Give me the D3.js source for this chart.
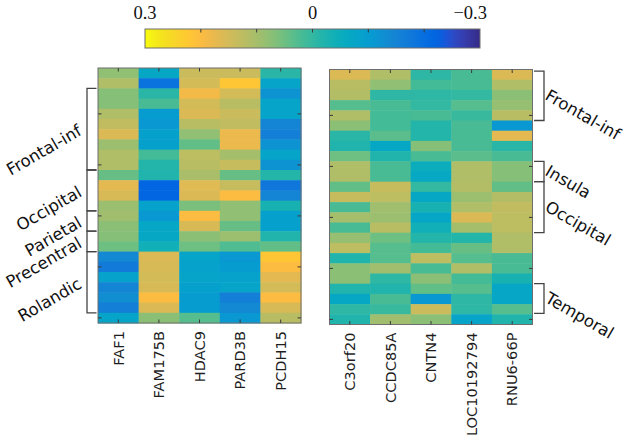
<!DOCTYPE html>
<html><head><meta charset="utf-8">
<script src="https://cdn.jsdelivr.net/npm/d3@7"></script>
<style>body{margin:0;background:#fff}svg{display:block}</style>
</head><body><svg id="c" width="630" height="435"></svg>
<script>
// ---------------- data ----------------
const leftGenes = ["FAF1","FAM175B","HDAC9","PARD3B","PCDH15"];
const rightGenes = ["C3orf20","CCDC85A","CNTN4","LOC10192794","RNU6-66P"];

const leftValues = [
  [0.08,-0.07,0.14,0.14,-0.01],
  [0.11,-0.19,0.15,0.22,-0.08],
  [0.07,-0.01,0.19,0.15,-0.12],
  [0.07,0.02,0.15,0.12,-0.08],
  [0.11,-0.10,0.16,0.14,-0.08],
  [0.13,-0.11,0.12,0.13,-0.15],
  [0.16,-0.09,0.08,0.18,-0.16],
  [0.09,-0.09,0.04,0.18,-0.12],
  [0.11,0.015,0.125,0.10,-0.08],
  [0.11,-0.015,0.12,0.135,-0.12],
  [0.045,-0.02,0.105,0.045,-0.015],
  [0.17,-0.22,0.165,0.135,-0.18],
  [0.155,-0.22,0.16,0.20,-0.15],
  [0.09,-0.085,0.06,0.08,-0.03],
  [0.095,-0.11,0.20,0.08,-0.09],
  [0.075,-0.075,0.155,0.045,-0.09],
  [0.07,-0.07,0.075,0.09,-0.02],
  [0.05,-0.04,0.05,0.025,0.04],
  [-0.14,0.16,-0.08,-0.11,0.22],
  [-0.17,0.155,-0.085,-0.10,0.20],
  [-0.085,0.15,-0.08,-0.085,0.17],
  [-0.15,0.155,-0.09,-0.08,0.15],
  [-0.13,0.20,-0.10,-0.16,0.20],
  [-0.16,0.16,-0.10,-0.14,0.155],
  [-0.08,0.075,0.03,-0.11,0.12]
];

const rightValues = [
  [0.16,0.11,-0.005,0.02,0.16],
  [0.12,0.08,0.015,0.02,0.11],
  [0.115,-0.005,-0.005,0.0,0.075],
  [0.03,0.02,0.0,0.03,0.085],
  [0.11,0.015,0.02,0.005,0.12],
  [0.075,0.015,-0.015,0.02,-0.11],
  [-0.01,0.035,-0.015,0.02,0.17],
  [-0.02,-0.07,0.07,0.02,-0.01],
  [0.05,-0.02,0.02,0.035,0.02],
  [0.11,0.02,-0.05,0.11,0.07],
  [0.11,0.02,-0.065,0.11,0.07],
  [0.04,0.135,0.0,0.115,0.04],
  [0.135,0.125,-0.07,0.09,0.115],
  [0.02,0.095,-0.03,0.11,0.13],
  [0.10,0.09,-0.075,0.16,0.125],
  [0.02,0.12,-0.04,0.10,0.125],
  [0.085,0.05,-0.015,-0.015,0.11],
  [0.125,0.03,0.015,0.045,0.11],
  [-0.02,0.03,0.125,0.03,0.02],
  [0.075,0.095,0.02,0.11,0.02],
  [0.075,-0.005,0.075,0.015,-0.03],
  [-0.02,-0.02,0.04,0.03,-0.075],
  [-0.07,0.02,-0.11,-0.005,-0.075],
  [-0.005,0.005,0.14,-0.005,0.03],
  [-0.02,0.095,0.075,-0.08,-0.02]
];

// region brackets, in row units (row boundaries, 0 = top of first row)
const leftRegions = [
  {name:"Frontal-inf", from:2, to:10},
  {name:"Occipital", from:10, to:14},
  {name:"Parietal", from:14, to:16},
  {name:"Precentral", from:16, to:18},
  {name:"Rolandic", from:18, to:24}
];
const rightRegions = [
  {name:"Frontal-inf", from:0.15, to:5},
  {name:"Insula", from:9, to:11},
  {name:"Occipital", from:11, to:16},
  {name:"Temporal", from:21, to:23.9}
];

const rowTicks = [5,10,15,20,25];             // 1-based rows that carry tick marks
const colorbarTicks = [0.2,0.1,0,-0.1,-0.2];
const colorbarLabels = [0.3,0,-0.3];
const colorDomain = [-0.3,0.3];

// parula colormap (64 entries)
const parula = [
[0.2081,0.1663,0.5292],[0.2116,0.1898,0.5777],[0.2123,0.2138,0.6270],[0.2081,0.2386,0.6771],
[0.1959,0.2645,0.7279],[0.1707,0.2919,0.7792],[0.1253,0.3242,0.8303],[0.0591,0.3598,0.8683],
[0.0117,0.3875,0.8820],[0.0060,0.4086,0.8828],[0.0165,0.4266,0.8786],[0.0329,0.4430,0.8720],
[0.0498,0.4586,0.8641],[0.0629,0.4737,0.8554],[0.0723,0.4887,0.8467],[0.0779,0.5040,0.8384],
[0.0793,0.5200,0.8312],[0.0749,0.5375,0.8263],[0.0641,0.5570,0.8240],[0.0488,0.5772,0.8228],
[0.0343,0.5966,0.8199],[0.0265,0.6137,0.8135],[0.0239,0.6287,0.8038],[0.0231,0.6418,0.7913],
[0.0228,0.6535,0.7768],[0.0267,0.6642,0.7607],[0.0384,0.6743,0.7436],[0.0590,0.6838,0.7254],
[0.0843,0.6928,0.7062],[0.1133,0.7015,0.6859],[0.1453,0.7098,0.6646],[0.1801,0.7177,0.6424],
[0.2178,0.7250,0.6193],[0.2586,0.7317,0.5954],[0.3022,0.7376,0.5712],[0.3482,0.7424,0.5473],
[0.3953,0.7459,0.5244],[0.4420,0.7481,0.5033],[0.4871,0.7491,0.4840],[0.5300,0.7491,0.4661],
[0.5709,0.7485,0.4494],[0.6099,0.7473,0.4337],[0.6473,0.7456,0.4188],[0.6834,0.7435,0.4044],
[0.7184,0.7411,0.3905],[0.7525,0.7384,0.3768],[0.7858,0.7356,0.3633],[0.8185,0.7327,0.3498],
[0.8507,0.7299,0.3360],[0.8824,0.7274,0.3217],[0.9139,0.7258,0.3063],[0.9450,0.7261,0.2886],
[0.9739,0.7314,0.2666],[0.9938,0.7455,0.2403],[0.9990,0.7653,0.2164],[0.9955,0.7861,0.1967],
[0.9880,0.8066,0.1794],[0.9789,0.8271,0.1633],[0.9697,0.8481,0.1475],[0.9626,0.8705,0.1309],
[0.9589,0.8949,0.1132],[0.9598,0.9218,0.0948],[0.9661,0.9514,0.0755],[0.9763,0.9831,0.0538]
];

// ---------------- drawing ----------------
const svg = d3.select("#c");
svg.append("rect").attr("width",630).attr("height",435).attr("fill","#fff");

const interp = d3.piecewise(d3.interpolateRgb, parula.map(c=>d3.rgb(c[0]*255,c[1]*255,c[2]*255)));
const color = d3.scaleSequential(interp).domain(colorDomain);

const AX = "#3a3a3a", BOX = "#6e6e6e", TXT = "#1e1e1e";
const sansFont = "'DejaVu Sans', Verdana, sans-serif";

function heatmap(genes, values, x0, x1, y0, y1, regions, side){
  const g = svg.append("g");
  const x = d3.scaleBand().domain(d3.range(genes.length)).range([x0,x1]);
  const y = d3.scaleBand().domain(d3.range(values.length)).range([y0,y1]);
  const yc = d3.scaleLinear().domain([0,values.length]).range([y0,y1]);

  values.forEach((row,i)=>{
    g.selectAll(null).data(row).enter().append("rect")
      .attr("x",(d,j)=>x(j)).attr("y",y(i))
      .attr("width",x.bandwidth()+0.5).attr("height",y.bandwidth()+0.5)
      .attr("fill",d=>color(d));
  });
  g.append("rect").attr("x",x0).attr("y",y0).attr("width",x1-x0).attr("height",y1-y0)
    .attr("fill","none").attr("stroke",BOX).attr("stroke-width",1);
  const tl = 3.5;
  genes.forEach((gname,j)=>{
    const cx = x(j)+x.bandwidth()/2;
    g.append("line").attr("x1",cx).attr("x2",cx).attr("y1",y0).attr("y2",y0+tl).attr("stroke",AX).attr("stroke-width",1);
    g.append("line").attr("x1",cx).attr("x2",cx).attr("y1",y1).attr("y2",y1-tl).attr("stroke",AX).attr("stroke-width",1);
    g.append("text").attr("transform",`translate(${cx},${y1+8}) rotate(-90)`)
      .attr("text-anchor","end").attr("dy","0.36em")
      .attr("font-family",sansFont).attr("font-size",14.6).attr("fill",TXT).text(gname);
  });
  rowTicks.forEach(r=>{
    const cy = y(r-1)+y.bandwidth()/2;
    g.append("line").attr("x1",x0).attr("x2",x0+tl).attr("y1",cy).attr("y2",cy).attr("stroke",AX).attr("stroke-width",1);
    g.append("line").attr("x1",x1).attr("x2",x1-tl).attr("y1",cy).attr("y2",cy).attr("stroke",AX).attr("stroke-width",1);
  });
  const bx = side==="left" ? x0-11 : x1+11.5;
  const hx = side==="left" ? x0-1.5 : x1+1.5;
  regions.forEach(r=>{
    const ya = yc(r.from), yb = yc(r.to);
    g.append("path").attr("d",`M${hx},${ya}H${bx}V${yb}H${hx}`)
      .attr("fill","none").attr("stroke","#444").attr("stroke-width",1.3);
    const my = (ya+yb)/2;
    if(side==="left"){
      g.append("text").attr("transform",`translate(${bx-7},${my}) rotate(-30)`)
        .attr("text-anchor","end").attr("dy","0.35em")
        .attr("font-family",sansFont).attr("font-size",16.5).attr("fill","#111").text(r.name);
    } else {
      g.append("text").attr("transform",`translate(${bx+3},${my-2}) rotate(30)`)
        .attr("text-anchor","start").attr("dy","0.35em")
        .attr("font-family",sansFont).attr("font-size",16.5).attr("fill","#111").text(r.name);
    }
  });
}

heatmap(leftGenes, leftValues, 98, 301, 68, 323, leftRegions, "left");
heatmap(rightGenes, rightValues, 329.5, 532.5, 69.5, 324.5, rightRegions, "right");

// ---------------- colorbar ----------------
const cbX0 = 145, cbX1 = 480, cbY0 = 29, cbY1 = 48;
const cx = d3.scaleLinear().domain([0.3,-0.3]).range([cbX0,cbX1]);
const defs = svg.append("defs");
const grad = defs.append("linearGradient").attr("id","cbg").attr("x1","0%").attr("x2","100%");
d3.range(0,1.0001,0.02).forEach(t=>{
  grad.append("stop").attr("offset",(t*100)+"%").attr("stop-color",color(cx.invert(cbX0+t*(cbX1-cbX0))));
});
svg.append("rect").attr("x",cbX0).attr("y",cbY0).attr("width",cbX1-cbX0).attr("height",cbY1-cbY0)
  .attr("fill","url(#cbg)").attr("stroke",BOX).attr("stroke-width",1);
colorbarTicks.forEach(v=>{
  svg.append("line").attr("x1",cx(v)).attr("x2",cx(v)).attr("y1",cbY0).attr("y2",cbY0+3.5)
    .attr("stroke",AX).attr("stroke-width",1);
});
const fmt = v => v===0 ? "0" : (v<0 ? "\u2212"+d3.format(".1f")(-v) : d3.format(".1f")(v));
colorbarLabels.forEach(v=>{
  const last = v<0;
  svg.append("text").attr("x", last ? cx(v)+7 : cx(v)).attr("y",18.5)
    .attr("text-anchor", last ? "end" : "middle")
    .attr("font-family","'Liberation Serif','Times New Roman',serif").attr("font-size",18.5)
    .attr("fill","#111").text(fmt(v));
});
</script></body></html>
